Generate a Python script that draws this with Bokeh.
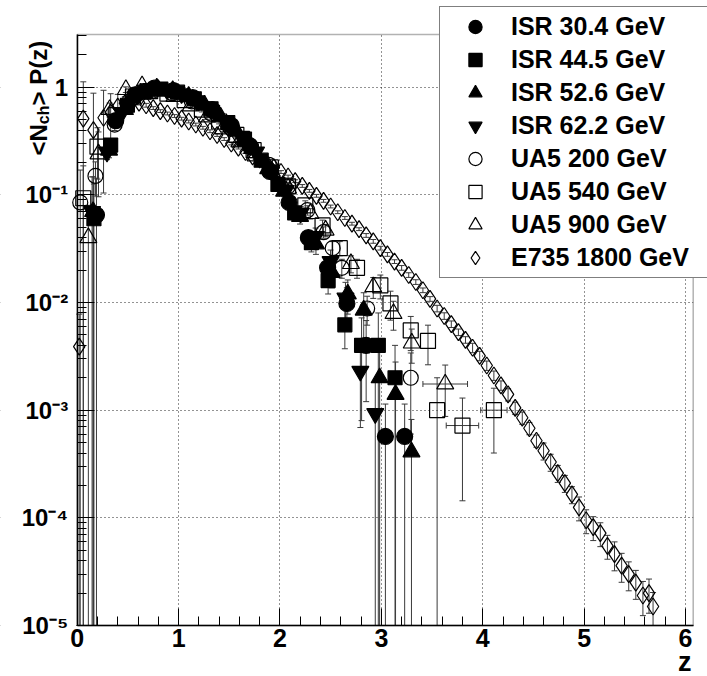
import math
from bokeh.plotting import figure
from bokeh.models import (ColumnDataSource, Whisker, TeeHead, Legend, LegendItem, Label,
                          FixedTicker, SingleIntervalTicker, CustomJSTickFormatter, Range1d,
                          BoxAnnotation)
from bokeh.embed import file_html
from bokeh.resources import INLINE

# ---------------- data ----------------
series_names = ["ISR 30.4 GeV", "ISR 44.5 GeV", "ISR 52.6 GeV", "ISR 62.2 GeV",
                "UA5 200 GeV", "UA5 540 GeV", "UA5 900 GeV", "E735 1800 GeV"]

isr30_z = [0.19, 0.38, 0.57, 0.76, 0.95, 1.14, 1.33, 1.52, 1.71, 1.90, 2.09, 2.28, 2.47, 2.66, 2.85, 3.04, 3.23]
isr30_p = [0.065, 0.49, 0.85, 0.98, 0.93, 0.80, 0.62, 0.44, 0.28, 0.165, 0.085, 0.040, 0.021, 0.0098, 0.0040, 0.00057, 0.00057]
isr30_e = [1.2, 0.12, 0.05, 0.03, 0.03, 0.03, 0.04, 0.05, 0.06, 0.08, 0.10, 0.15, 0.25, 0.4, 0.7, 1.0, 1.0]

isr44_z = [0.165, 0.33, 0.495, 0.66, 0.825, 0.99, 1.155, 1.32, 1.485, 1.65, 1.815, 1.98, 2.145, 2.31, 2.475, 2.64, 2.805, 2.97, 3.135]
isr44_p = [0.06, 0.29, 0.68, 0.90, 0.96, 0.90, 0.78, 0.63, 0.47, 0.33, 0.21, 0.125, 0.068, 0.036, 0.016, 0.0062, 0.0040, 0.0040, 0.0020]
isr44_e = [1.1, 0.15, 0.05, 0.03, 0.03, 0.03, 0.03, 0.04, 0.05, 0.06, 0.07, 0.09, 0.12, 0.18, 0.25, 0.4, 0.8, 1.0, 1.0]

isr52_z = [0.157, 0.314, 0.471, 0.628, 0.785, 0.942, 1.099, 1.256, 1.413, 1.570, 1.727, 1.884, 2.041, 2.198, 2.355, 2.512, 2.669, 2.826, 2.983, 3.140, 3.297]
isr52_p = [0.07, 0.26, 0.62, 0.88, 0.98, 0.93, 0.82, 0.68, 0.53, 0.39, 0.27, 0.175, 0.108, 0.063, 0.035, 0.019, 0.012, 0.0085, 0.0020, 0.0014, 0.00041]
isr52_e = [1.1, 0.15, 0.05, 0.03, 0.03, 0.03, 0.03, 0.04, 0.05, 0.06, 0.07, 0.09, 0.11, 0.15, 0.2, 0.28, 0.35, 0.45, 1.0, 1.0, 1.0]

isr62_z = [0.147, 0.294, 0.441, 0.588, 0.735, 0.882, 1.029, 1.176, 1.323, 1.470, 1.617, 1.764, 1.911, 2.058, 2.205, 2.352, 2.499, 2.646, 2.793, 2.940]
isr62_p = [0.07, 0.25, 0.58, 0.85, 0.97, 0.96, 0.87, 0.75, 0.61, 0.47, 0.35, 0.25, 0.17, 0.11, 0.068, 0.041, 0.024, 0.011, 0.0023, 0.00093]
isr62_e = [1.1, 0.15, 0.05, 0.03, 0.03, 0.03, 0.03, 0.04, 0.05, 0.06, 0.07, 0.08, 0.10, 0.12, 0.15, 0.2, 0.28, 0.4, 0.7, 1.0]

ua200_z = [0.03, 0.18, 0.37, 0.56, 0.75, 0.94, 1.13, 1.32, 1.51, 1.70, 1.89, 2.08, 2.27, 2.43, 2.52, 2.61, 2.86, 3.29]
ua200_p = [0.085, 0.15, 0.45, 0.80, 0.93, 0.88, 0.74, 0.57, 0.42, 0.29, 0.19, 0.12, 0.072, 0.045, 0.032, 0.021, 0.0088, 0.0020]
ua200_e = [1.0, 0.35, 0.12, 0.06, 0.04, 0.04, 0.04, 0.05, 0.05, 0.06, 0.07, 0.08, 0.10, 0.12, 0.15, 0.2, 0.3, 0.7]

ua540_z = [0.06, 0.20, 0.38, 0.55, 0.72, 0.89, 1.06, 1.23, 1.40, 1.57, 1.74, 1.91, 2.08, 2.25, 2.42, 2.59, 2.76, 2.99, 3.09, 3.29, 3.46, 3.55, 3.80, 4.11]
ua540_p = [0.093, 0.28, 0.55, 0.82, 0.92, 0.87, 0.76, 0.62, 0.48, 0.36, 0.26, 0.18, 0.12, 0.08, 0.052, 0.032, 0.021, 0.0144, 0.0098, 0.0055, 0.0044, 0.0010, 0.00072, 0.0010]
ua540_e = [1.0, 0.5, 0.15, 0.06, 0.04, 0.04, 0.04, 0.05, 0.05, 0.06, 0.07, 0.08, 0.09, 0.10, 0.12, 0.15, 0.2, 0.25, 0.3, 0.35, 0.4, 1.0, 0.8, 0.6]
ua540_xe = [0, 0, 0, 0, 0, 0, 0, 0, 0, 0, 0, 0, 0, 0, 0, 0, 0, 0, 0, 0, 0, 0, 0.16, 0.13]

ua900_z = [0.11, 0.21, 0.32, 0.48, 0.64, 0.80, 0.96, 1.12, 1.28, 1.44, 1.60, 1.76, 1.92, 2.08, 2.30, 2.45, 2.70, 2.92, 3.12, 3.30, 3.63]
ua900_p = [0.04, 0.24, 0.62, 0.95, 1.03, 0.95, 0.82, 0.67, 0.53, 0.41, 0.31, 0.23, 0.165, 0.115, 0.067, 0.047, 0.023, 0.014, 0.0079, 0.0042, 0.00175]
ua900_e = [1.0, 0.6, 0.15, 0.06, 0.04, 0.04, 0.04, 0.04, 0.05, 0.05, 0.06, 0.07, 0.08, 0.09, 0.11, 0.13, 0.18, 0.22, 0.3, 0.35, 0.5]
ua900_xe = [0, 0, 0, 0, 0, 0, 0, 0, 0, 0, 0, 0, 0, 0, 0, 0, 0, 0, 0, 0, 0.22]

e735_z = [0.02, 0.06, 0.16, 0.26, 0.33, 0.40, 0.47, 0.54, 0.61, 0.68, 0.75, 0.82, 0.89, 0.96,
          1.03, 1.10, 1.17, 1.24, 1.31, 1.38, 1.45, 1.52, 1.59, 1.66, 1.73, 1.80, 1.87, 1.94,
          2.01, 2.08, 2.15, 2.22, 2.29, 2.36, 2.43, 2.50, 2.57, 2.64, 2.71, 2.78, 2.85, 2.92,
          2.99, 3.06, 3.13, 3.20, 3.27, 3.34, 3.41, 3.48, 3.55, 3.62, 3.69, 3.76, 3.83, 3.90,
          3.97, 4.04, 4.11, 4.18, 4.25, 4.32, 4.39, 4.46, 4.53, 4.60, 4.67, 4.74, 4.81, 4.88,
          4.95, 5.02, 5.09, 5.16, 5.23, 5.30, 5.37, 5.44, 5.51, 5.58, 5.64, 5.68]
e735_p = [0.0039, 0.51, 0.40, 0.52, 0.58, 0.66, 0.71, 0.73, 0.72, 0.68, 0.64, 0.60, 0.57, 0.54,
          0.51, 0.48, 0.45, 0.42, 0.39, 0.36, 0.33, 0.30, 0.275, 0.25, 0.228, 0.213, 0.195, 0.180,
          0.163, 0.148, 0.134, 0.121, 0.109, 0.098, 0.088, 0.078, 0.069, 0.061, 0.054, 0.048, 0.042, 0.037,
          0.032, 0.028, 0.024, 0.021, 0.018, 0.0155, 0.013, 0.0108, 0.0088, 0.0075, 0.0063, 0.0053, 0.0045, 0.0038,
          0.0032, 0.0026, 0.0021, 0.0017, 0.0014, 0.00105, 0.00085, 0.00068, 0.00052, 0.00042, 0.00033, 0.00026, 0.00021, 0.000165,
          0.000125, 0.000095, 0.000082, 0.000072, 0.000055, 0.000046, 0.000036, 0.00003, 0.000025, 0.000019, 0.00002, 0.000015]
e735_e = [1.0, 1.2, 1.2, 0.8, 0.5, 0.3, 0.15, 0.08, 0.05, 0.04,
          0.03, 0.03, 0.03, 0.03, 0.03, 0.03, 0.03, 0.03, 0.03, 0.03,
          0.03, 0.03, 0.03, 0.03, 0.03, 0.03, 0.03, 0.03, 0.03, 0.03,
          0.03, 0.03, 0.03, 0.03, 0.03, 0.03, 0.03, 0.03, 0.03, 0.03,
          0.04, 0.04, 0.04, 0.04, 0.04, 0.05, 0.05, 0.05, 0.05, 0.05,
          0.07, 0.07, 0.07, 0.07, 0.07, 0.10, 0.10, 0.10, 0.10, 0.10,
          0.13, 0.13, 0.13, 0.13, 0.13, 0.18, 0.18, 0.18, 0.18, 0.18,
          0.25, 0.25, 0.25, 0.25, 0.25, 0.30, 0.30, 0.30, 0.30, 0.35, 0.35, 0.35]

y_ticks = [1e-5, 1e-4, 1e-3, 1e-2, 1e-1, 1.0]
x_tick_interval = 1

# ---------------- layout constants (canvas = frame) ----------------
W, H = 707, 676
X_MIN, X_MAX = 0.0, 6.076          # plotted box in data units
Y_MIN, Y_MAX = 1e-5, 3.087
PX_PER_Z = 101.383                 # horizontal scale
PX_PER_DEC = 107.66                # vertical scale (pixels per decade)
BOX_LEFT, BOX_BOTTOM = 76.7, 625.0 # canvas position of the plotted box

xr = Range1d(X_MIN - BOX_LEFT / PX_PER_Z, X_MIN + (W - BOX_LEFT) / PX_PER_Z)
yr = Range1d(Y_MIN * 10 ** (-(H - BOX_BOTTOM) / PX_PER_DEC), Y_MIN * 10 ** (BOX_BOTTOM / PX_PER_DEC))

FONT = "Liberation Sans"

p = figure(width=W, height=H, output_backend="svg", toolbar_location=None,
           y_axis_type="log", x_range=xr, y_range=yr)
p.min_border = 0
p.min_border_left = 0
p.min_border_right = 0
p.min_border_top = 0
p.min_border_bottom = 0
p.background_fill_color = "white"
p.border_fill_color = "white"
p.outline_line_color = None

xa = p.xaxis[0]
ya = p.yaxis[0]
xa.fixed_location = Y_MIN
ya.fixed_location = X_MIN
xa.bounds = (X_MIN, X_MAX)
ya.bounds = (Y_MIN, Y_MAX)

xa.ticker = SingleIntervalTicker(interval=x_tick_interval, num_minor_ticks=5)
minor = [m * t for t in y_ticks[:-1] for m in range(2, 10)] + [2.0, 3.0]
ya.ticker = FixedTicker(ticks=y_ticks, minor_ticks=minor)
ya.formatter = CustomJSTickFormatter(code="""
const e = Math.round(Math.log10(tick));
if (e === 0) return "1";
const sup = {"-":"\u207b","0":"\u2070","1":"\u00b9","2":"\u00b2","3":"\u00b3","4":"\u2074","5":"\u2075","6":"\u2076","7":"\u2077","8":"\u2078","9":"\u2079"};
return "10" + String(e).split("").map(c => sup[c]).join("");
""")

for ax in (xa, ya):
    ax.axis_line_width = 1.5
    ax.axis_line_color = "black"
    ax.major_tick_in = 17
    ax.major_tick_out = 0
    ax.minor_tick_in = 9
    ax.minor_tick_out = 0
    ax.major_tick_line_color = "black"
    ax.minor_tick_line_color = "black"
    ax.major_label_text_font = FONT
    ax.major_label_text_font_style = "bold"
    ax.major_label_text_color = "black"
xa.major_label_text_font_size = "25px"
ya.major_label_text_font_size = "24px"
xa.major_label_standoff = 3
ya.major_label_standoff = 9

for g in (p.xgrid[0], p.ygrid[0]):
    g.grid_line_color = "black"
    g.grid_line_dash = "1 3"
    g.grid_line_width = 1
    g.grid_line_alpha = 0.85
p.ygrid.ticker = FixedTicker(ticks=y_ticks)
p.xgrid.ticker = SingleIntervalTicker(interval=x_tick_interval)

# white margins so the grid only shows inside the plotted box
for kw in (dict(bottom=Y_MAX), dict(top=Y_MIN), dict(right=X_MIN), dict(left=X_MAX)):
    p.add_layout(BoxAnnotation(fill_color="white", fill_alpha=1.0, line_alpha=0,
                               level="underlay", **kw))

ERR_COLOR = "#3a3a3a"


def add_yerr(z, pv, rel):
    lo = [max(v * (1 - r), Y_MIN) for v, r in zip(pv, rel)]
    hi = [v * (1 + r) for v, r in zip(pv, rel)]
    src = ColumnDataSource(dict(base=z, lower=lo, upper=hi))
    w = Whisker(source=src, base="base", lower="lower", upper="upper", dimension="height",
                line_color=ERR_COLOR, line_width=1, level="underlay",
                upper_head=TeeHead(size=6, line_color=ERR_COLOR, line_width=1),
                lower_head=TeeHead(size=6, line_color=ERR_COLOR, line_width=1))
    p.add_layout(w)


def add_xerr(z, pv, xe):
    zz = [a for a, e in zip(z, xe) if e > 0]
    pp = [b for b, e in zip(pv, xe) if e > 0]
    ee = [e for e in xe if e > 0]
    src = ColumnDataSource(dict(base=pp, lower=[a - e for a, e in zip(zz, ee)],
                                upper=[a + e for a, e in zip(zz, ee)]))
    w = Whisker(source=src, base="base", lower="lower", upper="upper", dimension="width",
                line_color=ERR_COLOR, line_width=1, level="underlay",
                upper_head=TeeHead(size=6, line_color=ERR_COLOR, line_width=1),
                lower_head=TeeHead(size=6, line_color=ERR_COLOR, line_width=1))
    p.add_layout(w)


series = [
    (isr30_z, isr30_p, isr30_e, None, dict(marker="circle", size=16, fill_color="black")),
    (isr44_z, isr44_p, isr44_e, None, dict(marker="square", size=14, fill_color="black")),
    (isr52_z, isr52_p, isr52_e, None, dict(marker="triangle", size=17, fill_color="black")),
    (isr62_z, isr62_p, isr62_e, None, dict(marker="inverted_triangle", size=17, fill_color="black")),
    (ua200_z, ua200_p, ua200_e, None, dict(marker="circle", size=15, fill_color=None)),
    (ua540_z, ua540_p, ua540_e, ua540_xe, dict(marker="square", size=15, fill_color=None)),
    (ua900_z, ua900_p, ua900_e, ua900_xe, dict(marker="triangle", size=17, fill_color=None)),
    (e735_z, e735_p, e735_e, None, dict(marker="diamond", size=17, fill_color=None)),
]

items = []
for name, (z, pv, rel, xe, style) in zip(series_names, series):
    add_yerr(z, pv, rel)
    if xe is not None:
        add_xerr(z, pv, xe)
    r = p.scatter(z, pv, line_color="black", line_width=1.2, **style)
    items.append(LegendItem(label=name, renderers=[r]))

# box around the plotted area
p.add_layout(BoxAnnotation(left=X_MIN, right=X_MAX, bottom=Y_MIN, top=Y_MAX,
                           fill_alpha=0, line_color="black", line_width=1.5))

legend = Legend(items=items, location=(439, H - 278),
                border_line_color="black", border_line_width=1.5,
                background_fill_color="white", background_fill_alpha=1.0,
                padding=3, spacing=0, margin=0,
                glyph_width=64, glyph_height=33, label_height=33, label_width=200,
                label_standoff=4, label_text_font=FONT, label_text_font_style="bold",
                label_text_font_size="25px", label_text_color="black")
p.add_layout(legend)

# y-axis title  <N_ch> P(z)  (rotated, built from pieces for the subscript)
lab_kw = dict(x_units="screen", y_units="screen", angle=math.pi / 2, text_font=FONT,
              text_font_style="bold", text_color="black", text_baseline="alphabetic",
              text_align="left")
p.add_layout(Label(x=38, y=H - 155, text="<N", text_font_size="24px", **lab_kw))
p.add_layout(Label(x=43, y=H - 123.7, text="ch", text_font_size="16px", **lab_kw))
p.add_layout(Label(x=38, y=H - 105, text="> P(z)", text_font_size="24px", **lab_kw))

# x-axis title
p.add_layout(Label(x=691, y=H - 661, x_units="screen", y_units="screen",
                   text="z", text_font=FONT, text_font_style="bold", text_font_size="27px",
                   text_color="black", text_align="right", text_baseline="middle"))

open("out.html", "w").write(file_html(p, INLINE))
